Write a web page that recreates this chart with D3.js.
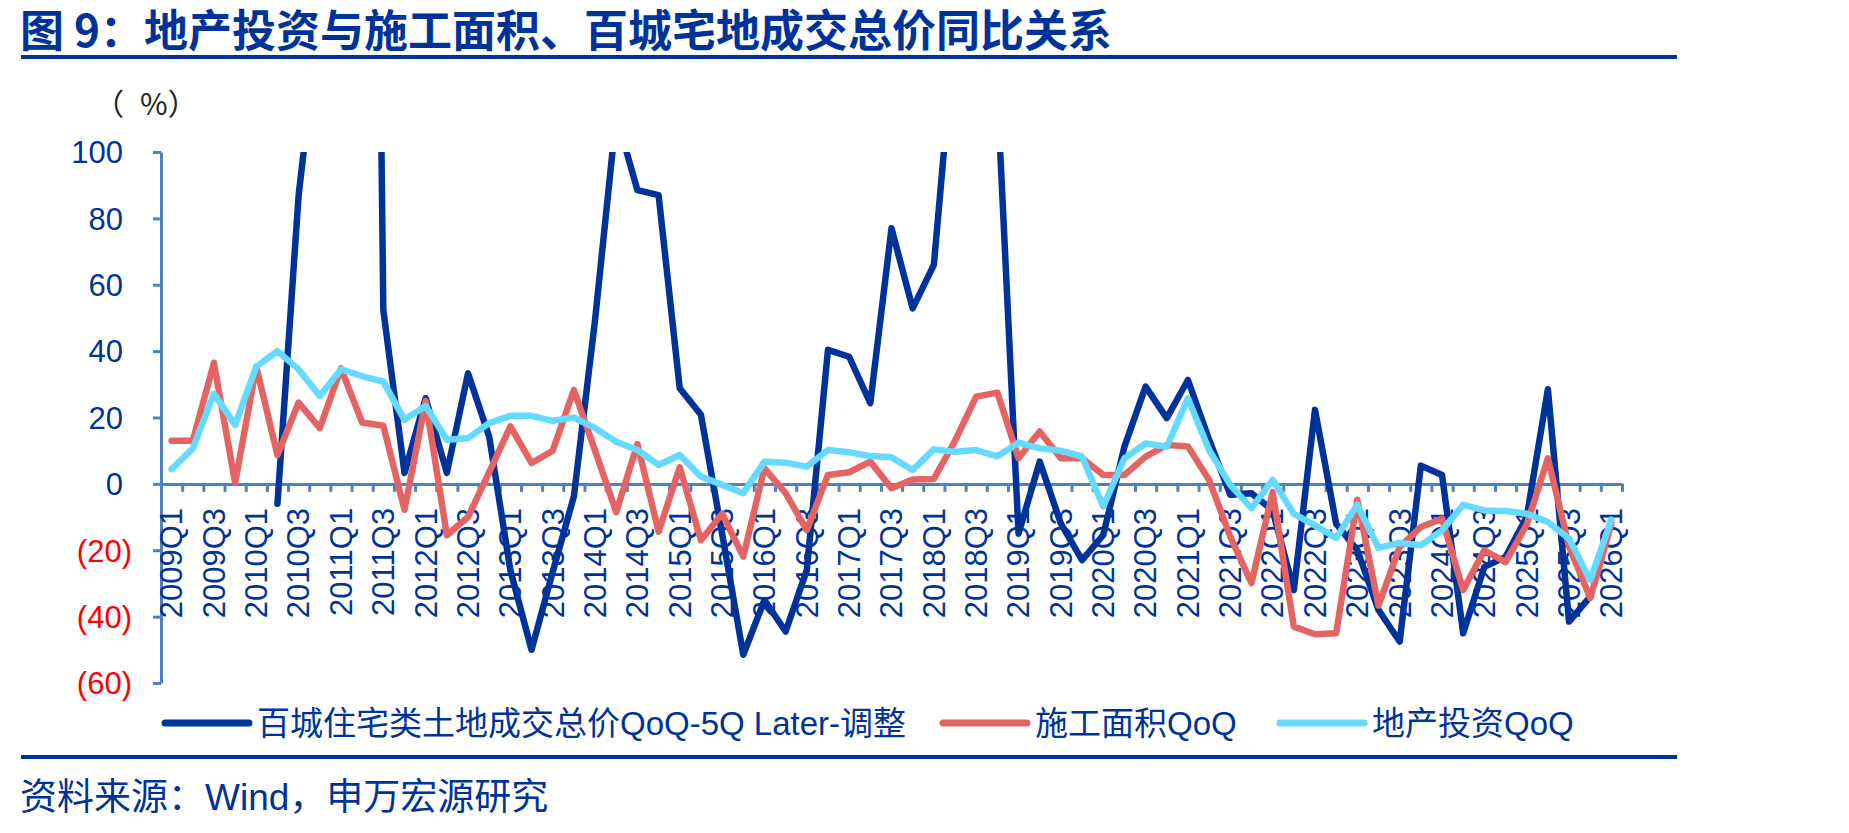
<!DOCTYPE html>
<html>
<head>
<meta charset="utf-8">
<script src="https://cdn.jsdelivr.net/npm/d3@7"></script>
<style>
  body { margin: 0; background: #fff; }
  svg { display: block; }
</style>
</head>
<body>
<div id="chart"></div>
<script>
// categories (quarters)
let quarters = [
  '2009Q1','2009Q2','2009Q3','2009Q4','2010Q1','2010Q2','2010Q3','2010Q4',
  '2011Q1','2011Q2','2011Q3','2011Q4','2012Q1','2012Q2','2012Q3','2012Q4',
  '2013Q1','2013Q2','2013Q3','2013Q4','2014Q1','2014Q2','2014Q3','2014Q4',
  '2015Q1','2015Q2','2015Q3','2015Q4','2016Q1','2016Q2','2016Q3','2016Q4',
  '2017Q1','2017Q2','2017Q3','2017Q4','2018Q1','2018Q2','2018Q3','2018Q4',
  '2019Q1','2019Q2','2019Q3','2019Q4','2020Q1','2020Q2','2020Q3','2020Q4',
  '2021Q1','2021Q2','2021Q3','2021Q4','2022Q1','2022Q2','2022Q3','2022Q4',
  '2023Q1','2023Q2','2023Q3','2023Q4','2024Q1','2024Q2','2024Q3','2024Q4',
  '2025Q1','2025Q2','2025Q3','2025Q4','2026Q1'
]

// 百城住宅类土地成交总价QoQ-5Q Later-调整 (values above 100 are cut by the plot)
let landPrice = [
  null, null, null, null, null, -6, 87, 142,
  400, 600, 52.4, 3.3, 25.8, 3.3, 33.3, 14.2,
  -26, -50, -26.5, -3.8, 49.4, 111, 88.5, 87,
  28.8, 20.8, -15, -51.5, -35, -44.5, -26, 40.4,
  38.3, 24.3, 77, 52.9, 66, 138, 200, 118,
  -15, 6.7, -12, -23, -15.4, 11.2, 29.3, 19.8,
  31.3, 13.3, -3.3, -2.8, -8, -32, 22.3, -12,
  -20, -38, -47.5, 5.5, 2.7, -45, -25, -22,
  -10, 28.5, -41.5, -34, null
]

// 施工面积QoQ
let floorSpace = [
  13, 13, 36.5, 0.3, 35.3, 8.7, 24.5, 16.8,
  34.8, 18.5, 17.5, -7.8, 25, -15.5, -10, 3.5,
  17.3, 6.3, 10, 28.3, 10, -8.5, 12, -14.4,
  5, -17, -9, -21.9, 4.7, -2.8, -13.9, 2.7,
  3.5, 6.7, -1.3, 1.3, 1.5, 13, 26.3, 27.5,
  7.7, 15.8, 7.7, 7.7, 2.7, 2.7, 8.2, 11.7,
  11.3, 1.2, -15.9, -29.9, -2.5, -43, -45.3, -45,
  -4.8, -36.7, -19, -13, -10.5, -32, -20, -23.6,
  -12.3, 7.7, -18.9, -34.4, -12
]

// 地产投资QoQ
let investment = [
  4.4, 10.7, 27.1, 17.8, 35.3, 40, 34.5, 26.5,
  34.5, 32.5, 30.8, 19.3, 23.5, 13.3, 13.8, 18.3,
  20.5, 20.5, 19, 20, 16.8, 12.7, 10.2, 5.7,
  8.7, 2.2, -0.3, -2.8, 6.7, 6.4, 5.2, 10.2,
  9.5, 8.4, 8, 4.2, 10.4, 9.7, 10.2, 8.3,
  12.4, 10.7, 10, 8.2, -6.8, 7.7, 12.2, 11.2,
  25.8, 10.2, -0.3, -7.3, 1.2, -9, -12.5, -16.3,
  -6.3, -19.3, -17.8, -18.5, -14, -6.3, -8, -8.2,
  -9, -11.5, -16.5, -29, -10.8
]

let yTicks = [-60, -40, -20, 0, 20, 40, 60, 80, 100]

let seriesNames = ['百城住宅类土地成交总价QoQ-5Q Later-调整', '施工面积QoQ', '地产投资QoQ']
let seriesColors = ['#003399', '#e46464', '#66d9ff']

let width = 1849, height = 833
let plotLeft = 161, plotRight = 1622, plotTop = 152, plotBottom = 683

let navy = '#003399'
let axisColor = '#4f81bd'
let latin = "'Liberation Sans', Arial, sans-serif"
let cjk = "'Noto Sans CJK SC', 'Liberation Sans', sans-serif"
let mixed = "'Liberation Sans', 'Noto Sans CJK SC', sans-serif"

let svg = d3.select('#chart')
.append('svg')
.attr('width', width)
.attr('height', height)

// title + rule
svg.append('text')
.attr('x', 20)
.attr('y', 47)
.style('font-family', cjk)
.style('font-weight', 700)
.style('font-size', '44px')
.style('fill', navy)
.text('图 9：地产投资与施工面积、百城宅地成交总价同比关系')

svg.append('rect')
.attr('x', 21).attr('y', 55)
.attr('width', 1656).attr('height', 4)
.attr('fill', navy)

let unit = svg.append('text')
.attr('x', 94)
.attr('y', 104)
.attr('dy', '0.35em')
.style('font-family', cjk)
.style('font-size', '30px')
.style('fill', '#222')

unit.append('tspan').text('（')
unit.append('tspan').attr('dx', 16).text('%）')

// scales
let x = d3.scalePoint()
.domain(quarters)
.range([plotLeft, plotRight])
.padding(0.5)

let xEdge = d3.scaleLinear()
.domain([0, quarters.length])
.range([plotLeft, plotRight])

let y = d3.scaleLinear()
.domain([-60, 100])
.range([plotBottom, plotTop])

// y axis
let yAxis = svg.append('g')
.attr('transform', `translate(${plotLeft},0)`)
.call(d3.axisLeft(y)
    .tickValues(yTicks)
    .tickSize(8)
    .tickSizeOuter(0)
    .tickFormat(d => d < 0 ? `(${-d})` : d))

yAxis.select('.domain').attr('stroke', axisColor).attr('stroke-width', 3)
yAxis.selectAll('.tick line').attr('stroke', axisColor).attr('stroke-width', 3)
yAxis.selectAll('.tick text')
.attr('x', d => d < 0 ? -29 : -38)
.attr('dy', '0.35em')
.style('font-family', latin)
.style('font-size', '31px')
.style('fill', d => d < 0 ? '#ff0000' : navy)

// x axis at zero, ticks on category edges
let xAxis = svg.append('g')
.attr('transform', `translate(0,${y(0)})`)
.call(d3.axisBottom(xEdge)
    .tickValues(d3.range(quarters.length + 1))
    .tickSize(8)
    .tickSizeOuter(0)
    .tickFormat(''))

xAxis.select('.domain').attr('stroke', axisColor).attr('stroke-width', 3)
xAxis.selectAll('.tick line').attr('stroke', axisColor).attr('stroke-width', 3)

svg.append('g')
.selectAll('text')
.data(quarters.filter((q, i) => i % 2 == 0))
.join('text')
.attr('transform', d => `translate(${x(d)},${y(0) + 24}) rotate(-90)`)
.attr('text-anchor', 'end')
.attr('dy', '0.35em')
.style('font-family', latin)
.style('font-size', '31px')
.style('fill', navy)
.text(d => d)

// lines
svg.append('defs').append('clipPath')
.attr('id', 'plot-clip')
.append('rect')
.attr('x', plotLeft).attr('y', plotTop)
.attr('width', plotRight - plotLeft + 20).attr('height', plotBottom - plotTop)

let line = d3.line()
.defined(d => d[1] != null)
.x(d => x(d[0]))
.y(d => y(d[1]))

let seriesData = [landPrice, floorSpace, investment]

svg.append('g')
.attr('clip-path', 'url(#plot-clip)')
.selectAll('path')
.data(seriesData)
.join('path')
.attr('d', vals => line(vals.map((v, i) => [quarters[i], v])))
.attr('fill', 'none')
.attr('stroke', (d, i) => seriesColors[i])
.attr('stroke-width', 6.5)
.attr('stroke-linejoin', 'round')
.attr('stroke-linecap', 'round')

// legend
let legendX = [165, 943, 1280]
let legendY = 723

let legend = svg.append('g')
.selectAll('g')
.data(seriesNames)
.join('g')
.attr('transform', (d, i) => `translate(${legendX[i]},${legendY})`)

legend.append('line')
.attr('x1', 0).attr('x2', 84)
.attr('stroke', (d, i) => seriesColors[i])
.attr('stroke-width', 7)
.attr('stroke-linecap', 'round')

legend.append('text')
.attr('x', 92)
.attr('dy', '0.35em')
.style('font-family', mixed)
.style('font-size', '33px')
.style('fill', navy)
.text(d => d)

// bottom rule + source
svg.append('rect')
.attr('x', 21).attr('y', 755)
.attr('width', 1656).attr('height', 4)
.attr('fill', navy)

svg.append('text')
.attr('x', 20)
.attr('y', 797)
.attr('dy', '0.35em')
.style('font-family', mixed)
.style('font-size', '37px')
.style('fill', navy)
.text('资料来源：Wind，申万宏源研究')
</script>
</body>
</html>
